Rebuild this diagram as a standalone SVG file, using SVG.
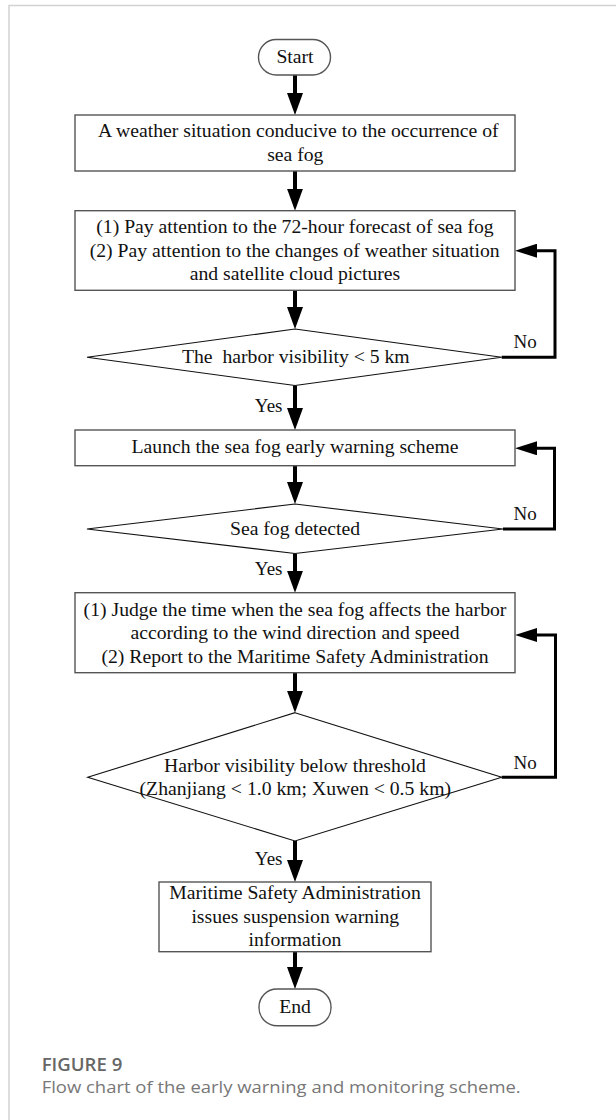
<svg xmlns="http://www.w3.org/2000/svg" width="616" height="1120" viewBox="0 0 616 1120">
<style>
  .box { fill: #fff; stroke: #555; stroke-width: 1.4; }
  .dia { fill: #fff; stroke: #111; stroke-width: 1.1; }
  .t { font-family: "Liberation Serif", "Times New Roman", serif; font-size: 19.7px; fill: #111; text-anchor: middle; }
  .lbl { font-family: "Liberation Serif", "Times New Roman", serif; font-size: 19px; fill: #111; }
  .down { fill: none; stroke: #000; stroke-width: 4; marker-end: url(#headD); }
  .fb { fill: none; stroke: #000; stroke-width: 3; marker-end: url(#headF); }
  .cap1 { font-family: "Open Sans", "Noto Sans", sans-serif; font-weight: 600; font-size: 18.6px; fill: #666; }
  .cap2 { font-family: "Open Sans", "Noto Sans", sans-serif; font-size: 16.4px; fill: #777; }
</style>
<defs>
  <marker id="headD" markerUnits="userSpaceOnUse" viewBox="0 0 22 16" markerWidth="22" markerHeight="16" refX="10" refY="8" orient="auto">
    <path d="M0,0 L22,8 L0,16 z" fill="#000"/>
  </marker>
  <marker id="headF" markerUnits="userSpaceOnUse" viewBox="0 0 22 14" markerWidth="22" markerHeight="14" refX="10" refY="7" orient="auto">
    <path d="M0,0 L22,7 L0,14 z" fill="#000"/>
  </marker>
</defs>

<path d="M9,1120 V5.5 H616" fill="none" stroke="#d2d2d2" stroke-width="1.5"/>

<g id="connectors">
  <path class="down" d="M295,75 V103"/>
  <path class="down" d="M295,171 V198.7"/>
  <path class="down" d="M295,290.3 V317"/>
  <path class="down" d="M295,385.5 V418"/>
  <path class="down" d="M295,465.7 V492"/>
  <path class="down" d="M295,553.5 V580.7"/>
  <path class="down" d="M295,672.7 V700.7"/>
  <path class="down" d="M295,841 V870"/>
  <path class="down" d="M295,951.7 V977"/>
  <path class="fb" d="M501.7,357.3 H555 V250.7 H527"/>
  <path class="fb" d="M503,529 H554.5 V448.3 H527"/>
  <path class="fb" d="M501.7,777.3 H555.5 V635 H527"/>
  <text class="lbl" x="513.5" y="348.3">No</text>
  <text class="lbl" x="513.5" y="519.5">No</text>
  <text class="lbl" x="513.5" y="769.3">No</text>
  <text class="lbl" x="282.5" y="411.7" text-anchor="end">Yes</text>
  <text class="lbl" x="282.5" y="575" text-anchor="end">Yes</text>
  <text class="lbl" x="282.5" y="865" text-anchor="end">Yes</text>
</g>

<g id="start">
  <rect class="box" x="258.5" y="39.5" width="72" height="35.5" rx="17.75"/>
  <text class="t" x="295" y="63.3">Start</text>
</g>

<g id="box1">
  <rect class="box" x="75" y="115" width="440" height="56"/>
  <text class="t" x="298.3" y="136.7">A weather situation conducive to the occurrence of</text>
  <text class="t" x="295.3" y="161">sea fog</text>
</g>

<g id="box2">
  <rect class="box" x="75" y="210.7" width="440" height="79.6"/>
  <text class="t" x="295" y="232.7">(1) Pay attention to the 72-hour forecast of sea fog</text>
  <text class="t" x="294.7" y="256.5">(2) Pay attention to the changes of weather situation</text>
  <text class="t" x="295" y="280">and satellite cloud pictures</text>
</g>

<g id="decision1">
  <polygon class="dia" points="295,329 501.7,357.3 295,385.5 87,357.3"/>
  <text class="t" x="295.8" y="363.3" xml:space="preserve">The  harbor visibility &lt; 5 km</text>
</g>

<g id="box3">
  <rect class="box" x="75" y="430" width="440" height="35.7"/>
  <text class="t" x="295" y="453.3">Launch the sea fog early warning scheme</text>
</g>

<g id="decision2">
  <polygon class="dia" points="295,504 503,529 295,553.5 87,529"/>
  <text class="t" x="295" y="535">Sea fog detected</text>
</g>

<g id="box4">
  <rect class="box" x="75" y="592.7" width="440" height="80"/>
  <text class="t" x="295" y="616">(1) Judge the time when the sea fog affects the harbor</text>
  <text class="t" x="295" y="639.3">according to the wind direction and speed</text>
  <text class="t" x="295" y="662.7">(2) Report to the Maritime Safety Administration</text>
</g>

<g id="decision3">
  <polygon class="dia" points="295,712.7 501.7,777.3 295,841 87.7,777.3"/>
  <text class="t" x="295" y="771.7">Harbor visibility below threshold</text>
  <text class="t" x="295.3" y="795">(Zhanjiang &lt; 1.0 km; Xuwen &lt; 0.5 km)</text>
</g>

<g id="box5">
  <rect class="box" x="159" y="882" width="272" height="69.7"/>
  <text class="t" x="295" y="899.3">Maritime Safety Administration</text>
  <text class="t" x="295.3" y="922.7">issues suspension warning</text>
  <text class="t" x="295" y="946">information</text>
</g>

<g id="end">
  <rect class="box" x="259" y="989" width="72" height="36.7" rx="18"/>
  <text class="t" x="295" y="1013.3">End</text>
</g>

<g id="caption">
  <text class="cap1" x="41.7" y="1070.7">FIGURE 9</text>
  <text class="cap2" x="41.7" y="1093.3" textLength="479" lengthAdjust="spacingAndGlyphs">Flow chart of the early warning and monitoring scheme.</text>
</g>
</svg>
